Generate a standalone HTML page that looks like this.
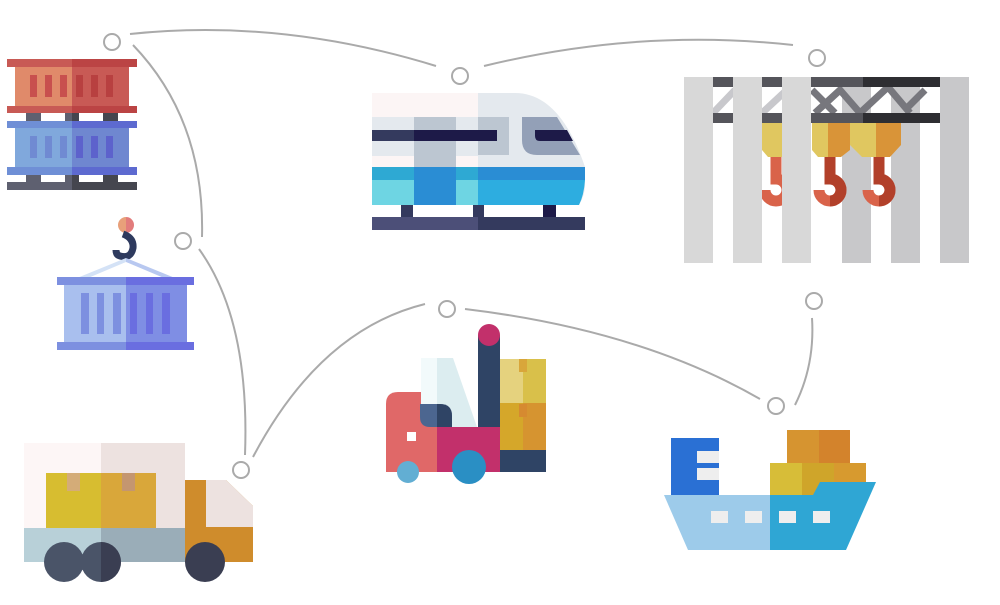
<!DOCTYPE html>
<html><head><meta charset="utf-8"><style>html,body{margin:0;padding:0;background:#fff}svg{display:block}</style></head>
<body>
<svg width="1000" height="605" viewBox="0 0 1000 605" xmlns="http://www.w3.org/2000/svg">
<!-- connectors -->
<g fill="none" stroke="#aaa" stroke-width="2">
<path d="M130,34 Q280,18 436,66"/>
<path d="M484,66 Q640,28 793,45"/>
<path d="M133,45 Q205,120 202,237"/>
<path d="M199,249 Q250,320 245,455"/>
<path d="M253,457 Q320,330 425,304"/>
<path d="M465,309 Q640,330 760,399"/>
<path d="M795,405 Q815,365 812,318"/>
<circle cx="112" cy="42" r="8"/><circle cx="460" cy="76" r="8"/><circle cx="817" cy="58" r="8"/>
<circle cx="183" cy="241" r="8"/><circle cx="447" cy="309" r="8"/><circle cx="814" cy="301" r="8"/>
<circle cx="776" cy="406" r="8"/><circle cx="241" cy="470" r="8"/>
</g>
<!-- stacked containers -->
<rect x="7" y="59" width="65" height="8" fill="#c85a55"/><rect x="72" y="59" width="65" height="8" fill="#bb4444"/>
<rect x="15" y="67" width="57" height="39" fill="#e08a6a"/><rect x="72" y="67" width="57" height="39" fill="#c85a55"/>
<g fill="#c8504e"><rect x="30" y="75" width="7" height="22"/><rect x="45" y="75" width="7" height="22"/><rect x="60" y="75" width="7" height="22"/></g>
<g fill="#b84040"><rect x="76" y="75" width="7" height="22"/><rect x="91" y="75" width="7" height="22"/><rect x="106" y="75" width="7" height="22"/></g>
<rect x="7" y="106" width="65" height="7" fill="#c85a55"/><rect x="72" y="106" width="65" height="7" fill="#bb4444"/>
<g fill="#5e6070"><rect x="26" y="113" width="15" height="8"/><rect x="65" y="113" width="7" height="8"/><rect x="26" y="175" width="15" height="8"/><rect x="65" y="175" width="7" height="8"/><rect x="7" y="182" width="65" height="8"/></g>
<g fill="#45464f"><rect x="72" y="113" width="7" height="8"/><rect x="103" y="113" width="15" height="8"/><rect x="72" y="175" width="7" height="8"/><rect x="103" y="175" width="15" height="8"/><rect x="72" y="182" width="65" height="8"/></g>
<rect x="7" y="121" width="65" height="7" fill="#6f8fd6"/><rect x="72" y="121" width="65" height="7" fill="#5d6ad0"/>
<rect x="15" y="128" width="57" height="39" fill="#80a8dc"/><rect x="72" y="128" width="57" height="39" fill="#6f87d0"/>
<g fill="#708ad2"><rect x="30" y="136" width="7" height="22"/><rect x="45" y="136" width="7" height="22"/><rect x="60" y="136" width="7" height="22"/></g>
<g fill="#5d62cc"><rect x="76" y="136" width="7" height="22"/><rect x="91" y="136" width="7" height="22"/><rect x="106" y="136" width="7" height="22"/></g>
<rect x="7" y="167" width="65" height="8" fill="#6f8fd6"/><rect x="72" y="167" width="65" height="8" fill="#5d6ad0"/>
<!-- hanging container -->
<path d="M118,225 a8,8 0 0,1 8,-8 v16 a8,8 0 0,1 -8,-8z" fill="#e8a07a"/>
<path d="M126,217 a8,8 0 0,1 0,16z" fill="#e27c7c"/>
<path d="M123,234 Q134,238 133,248 Q131,259 120,256 Q116,255 116,250" fill="none" stroke="#2e3a5e" stroke-width="7"/>
<polygon points="126,258 77,278 88,278 126,262" fill="#d4e2f6"/><polygon points="126,258 175,278 164,278 126,262" fill="#b8c8f0"/>
<rect x="57" y="277" width="69" height="8" fill="#7d90e0"/><rect x="126" y="277" width="68" height="8" fill="#6a6ee0"/>
<rect x="64" y="285" width="62" height="57" fill="#a9bfee"/><rect x="126" y="285" width="61" height="57" fill="#7f8ee4"/>
<g fill="#7d90e0"><rect x="81" y="293" width="8" height="41"/><rect x="97" y="293" width="7" height="41"/><rect x="113" y="293" width="8" height="41"/></g>
<g fill="#6a6ee0"><rect x="130" y="293" width="7" height="41"/><rect x="146" y="293" width="7" height="41"/><rect x="162" y="293" width="8" height="41"/></g>
<rect x="57" y="342" width="69" height="8" fill="#7d90e0"/><rect x="126" y="342" width="68" height="8" fill="#6a6ee0"/>
<!-- train -->
<rect x="372" y="93" width="106" height="112" fill="#fcf5f5"/>
<path d="M478,93 H515 Q560,93 585,167 V185 Q585,195 579,205 H478Z" fill="#e4e9ee"/>
<rect x="372" y="117" width="106" height="39" fill="#e4e9ee"/>
<rect x="414" y="117" width="42" height="88" fill="#bcc6d1"/>
<rect x="478" y="117" width="31" height="38" fill="#bcc6d1"/>
<path d="M522,117 H557 L580,155 H537 Q522,155 522,140Z" fill="#93a0b7"/>
<rect x="372" y="130" width="125" height="11" fill="#343a5e"/>
<rect x="414" y="130" width="83" height="11" fill="#1d1a48"/>
<path d="M535,130 H567 L573,141 H540 Q535,141 535,136Z" fill="#1d1a48"/>
<rect x="372" y="167" width="106" height="13" fill="#2ea9d3"/>
<path d="M478,167 H585 V180 H478Z" fill="#2a8dd4"/>
<rect x="372" y="180" width="106" height="25" fill="#6ed5e3"/>
<path d="M478,180 H585 Q584,195 579,205 H478Z" fill="#2dade0"/>
<rect x="414" y="167" width="42" height="38" fill="#2a8dd4"/>
<g fill="#343a5e"><rect x="401" y="205" width="12" height="12"/><rect x="473" y="205" width="11" height="12"/></g>
<rect x="543" y="205" width="13" height="12" fill="#1d1a48"/>
<rect x="372" y="217" width="106" height="13" fill="#4c4f78"/><rect x="478" y="217" width="107" height="13" fill="#343a5e"/>
<!-- crane -->
<g fill="#c8c8ca"><rect x="842" y="77" width="29" height="186"/><rect x="891" y="77" width="29" height="186"/><rect x="940" y="77" width="29" height="186"/></g>
<g stroke="#c8c8cc" stroke-width="7" fill="none"><path d="M713,113 L735,90 M745,90 L760,113 M762,113 L790,87"/></g>
<g stroke="#77777d" stroke-width="7" fill="none"><path d="M815,113 L840,90 L860,113 M860,113 L888,87 L910,113 M905,110 L925,90 M812,90 L835,113"/></g>
<rect x="713" y="77" width="150" height="10" fill="#55555b"/><rect x="863" y="77" width="77" height="10" fill="#2e2e32"/>
<rect x="713" y="113" width="150" height="10" fill="#55555b"/><rect x="863" y="113" width="77" height="10" fill="#2e2e32"/>
<path d="M762,123 H782 V157 H768 L762,150Z" fill="#e0c760"/>
<path d="M812,123 H828 V157 H818 L812,150Z" fill="#e0c760"/><path d="M828,123 H850 V150 L841,157 H828Z" fill="#d99438"/>
<path d="M850,123 H876 V157 H862 L850,145Z" fill="#e0c760"/><path d="M876,123 H901 V145 L890,157 H876Z" fill="#d99438"/>
<g fill="none" stroke-width="11">
<path d="M776,157 V179 A11,11 0 1,1 765,190" stroke="#d9634a"/>
<path d="M830,157 V179 A11,11 0 1,1 819,190" stroke="#d9634a"/>
<path d="M879,157 V179 A11,11 0 1,1 868,190" stroke="#d9634a"/>
<path d="M879,157 V179 A11,11 0 0,1 879,201" stroke="#b2402a"/>
<path d="M830,157 V179 A11,11 0 0,1 830,201" stroke="#b2402a"/>
</g>
<g fill="#d8d8d8"><rect x="684" y="77" width="29" height="186"/><rect x="733" y="77" width="29" height="186"/><rect x="782" y="77" width="29" height="186"/></g>
<!-- forklift -->
<rect x="421" y="358" width="20" height="69" fill="#f2fafb"/>
<polygon points="437,358 453,358 477,427 437,427" fill="#dcedf0"/>
<rect x="478" y="335" width="22" height="123" fill="#2f4465"/>
<circle cx="489" cy="335" r="11" fill="#c2306b"/>
<path d="M386,404 Q386,392 398,392 H421 V472 H386Z" fill="#e06868"/>
<rect x="421" y="404" width="16" height="68" fill="#e06868"/>
<path d="M420,404 H440 Q452,404 452,416 V427 H430 Q420,427 420,417Z" fill="#4c6690"/>
<path d="M437,404 H440 Q452,404 452,416 V427 H437Z" fill="#2f4465"/>
<rect x="437" y="427" width="63" height="45" fill="#c2306b"/>
<rect x="407" y="432" width="9" height="9" fill="#fff"/>
<rect x="500" y="359" width="23" height="44" fill="#e5d27e"/><rect x="523" y="359" width="23" height="44" fill="#d9c04a"/>
<rect x="500" y="403" width="23" height="47" fill="#d5a72a"/><rect x="523" y="403" width="23" height="47" fill="#d69430"/>
<rect x="519" y="359" width="8" height="13" fill="#d9a63a"/><rect x="519" y="404" width="8" height="13" fill="#d68a30"/>
<rect x="500" y="450" width="46" height="22" fill="#2f4465"/>
<circle cx="408" cy="472" r="11" fill="#62aed3"/>
<circle cx="469" cy="467" r="17" fill="#2a8fc4"/>
<!-- ship -->
<rect x="787" y="430" width="32" height="33" fill="#d69430"/><rect x="819" y="430" width="31" height="33" fill="#d3832c"/>
<rect x="770" y="463" width="32" height="32" fill="#d7bd38"/><rect x="802" y="463" width="32" height="32" fill="#cfa52a"/><rect x="834" y="463" width="32" height="32" fill="#d79a2f"/>
<rect x="671" y="438" width="48" height="57" fill="#2a70d4"/>
<rect x="697" y="451" width="22" height="12" fill="#eee"/><rect x="697" y="468" width="22" height="12" fill="#eee"/>
<polygon points="664,495 770,495 770,550 688,550" fill="#9dcbea"/>
<polygon points="770,495 813,495 820,482 876,482 846,550 770,550" fill="#2fa6d4"/>
<g fill="#eee"><rect x="711" y="511" width="17" height="12"/><rect x="745" y="511" width="17" height="12"/><rect x="779" y="511" width="17" height="12"/><rect x="813" y="511" width="17" height="12"/></g>
<!-- truck -->
<rect x="24" y="443" width="77" height="86" fill="#fdf6f6"/><rect x="101" y="443" width="84" height="86" fill="#ede2e0"/>
<rect x="46" y="473" width="55" height="55" fill="#d7bd30"/><rect x="101" y="473" width="55" height="55" fill="#d9a73a"/>
<rect x="67" y="473" width="13" height="18" fill="#d4ac78"/><rect x="122" y="473" width="13" height="18" fill="#c49670"/>
<rect x="24" y="528" width="77" height="34" fill="#b8d0d8"/><rect x="101" y="528" width="84" height="34" fill="#9aadb8"/>
<polygon points="185,480 226,480 253,506 253,562 185,562" fill="#cf8c2c"/>
<polygon points="206,480 226,480 253,506 253,527 206,527" fill="#ede2e0"/>
<circle cx="64" cy="562" r="20" fill="#4a5468"/>
<circle cx="101" cy="562" r="20" fill="#4a5468"/>
<path d="M101,542 a20,20 0 0,1 0,40z" fill="#3a3e52"/>
<circle cx="205" cy="562" r="20" fill="#3a3e52"/>
</svg>
</body></html>
